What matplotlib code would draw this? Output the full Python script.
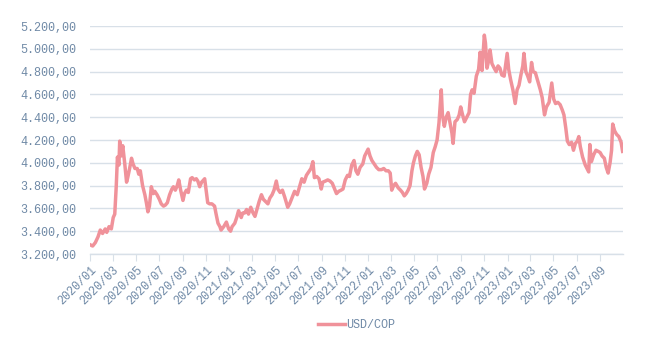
import pandas as pd
import numpy as np
import matplotlib
matplotlib.use("Agg")
from matplotlib import pyplot as plt
import matplotlib.dates as mdates
from matplotlib.ticker import FuncFormatter, MultipleLocator

# USD/COP exchange rate, 2020 - 2023
dates = [
    "2020-01-02", "2020-01-08", "2020-01-15", "2020-01-22", "2020-01-28", "2020-02-03", "2020-02-10",
    "2020-02-14", "2020-02-20", "2020-02-26", "2020-03-02", "2020-03-06", "2020-03-10", "2020-03-13",
    "2020-03-17", "2020-03-19", "2020-03-23", "2020-03-27", "2020-04-01", "2020-04-06", "2020-04-09",
    "2020-04-14", "2020-04-19", "2020-04-23", "2020-04-28", "2020-05-04", "2020-05-08", "2020-05-12",
    "2020-05-18", "2020-05-24", "2020-05-28", "2020-06-01", "2020-06-05", "2020-06-10", "2020-06-15",
    "2020-06-19", "2020-06-25", "2020-07-01", "2020-07-06", "2020-07-12", "2020-07-17", "2020-07-22",
    "2020-07-28", "2020-08-03", "2020-08-07", "2020-08-12", "2020-08-17", "2020-08-21", "2020-08-26",
    "2020-09-01", "2020-09-05", "2020-09-10", "2020-09-15", "2020-09-21", "2020-09-25", "2020-10-01",
    "2020-10-06", "2020-10-10", "2020-10-15", "2020-10-20", "2020-10-28", "2020-11-05", "2020-11-10",
    "2020-11-16", "2020-11-23", "2020-11-27", "2020-12-02", "2020-12-07", "2020-12-10", "2020-12-17",
    "2020-12-24", "2020-12-30",
    "2021-01-04", "2021-01-08", "2021-01-15", "2021-01-20", "2021-01-25", "2021-02-01", "2021-02-05",
    "2021-02-10", "2021-02-15", "2021-02-20", "2021-02-26", "2021-03-04", "2021-03-09", "2021-03-15",
    "2021-03-20", "2021-03-26", "2021-03-31", "2021-04-06", "2021-04-12", "2021-04-17", "2021-04-23",
    "2021-04-28", "2021-05-04", "2021-05-08", "2021-05-14", "2021-05-20", "2021-05-26", "2021-06-03",
    "2021-06-08", "2021-06-15", "2021-06-21", "2021-06-28", "2021-07-05", "2021-07-10", "2021-07-16",
    "2021-07-22", "2021-07-28", "2021-08-03", "2021-08-08", "2021-08-12", "2021-08-18", "2021-08-24",
    "2021-08-30", "2021-09-03", "2021-09-10", "2021-09-16", "2021-09-22", "2021-09-28", "2021-10-04",
    "2021-10-09", "2021-10-15", "2021-10-21", "2021-10-26", "2021-11-01", "2021-11-07", "2021-11-12",
    "2021-11-18", "2021-11-24", "2021-11-29", "2021-12-04", "2021-12-10", "2021-12-17", "2021-12-22",
    "2021-12-31",
    "2022-01-05", "2022-01-10", "2022-01-16", "2022-01-22", "2022-01-28", "2022-02-04", "2022-02-10",
    "2022-02-16", "2022-02-22", "2022-02-27", "2022-03-03", "2022-03-08", "2022-03-13", "2022-03-20",
    "2022-03-26", "2022-03-31", "2022-04-05", "2022-04-10", "2022-04-15", "2022-04-20", "2022-04-25",
    "2022-04-29", "2022-05-04", "2022-05-09", "2022-05-14", "2022-05-19", "2022-05-24", "2022-05-28",
    "2022-06-03", "2022-06-08", "2022-06-14", "2022-06-20", "2022-06-25", "2022-06-30", "2022-07-05",
    "2022-07-11", "2022-07-14", "2022-07-19", "2022-07-24", "2022-07-29", "2022-08-03", "2022-08-08",
    "2022-08-11", "2022-08-16", "2022-08-22", "2022-08-27", "2022-08-31", "2022-09-05", "2022-09-10",
    "2022-09-16", "2022-09-22", "2022-09-26", "2022-09-30", "2022-10-05", "2022-10-11", "2022-10-17",
    "2022-10-21", "2022-10-26", "2022-11-01", "2022-11-04", "2022-11-08", "2022-11-12", "2022-11-16",
    "2022-11-21", "2022-11-27", "2022-12-02", "2022-12-07", "2022-12-12", "2022-12-17", "2022-12-23",
    "2022-12-31",
    "2023-01-04", "2023-01-09", "2023-01-15", "2023-01-21", "2023-01-26", "2023-01-31", "2023-02-05",
    "2023-02-10", "2023-02-13", "2023-02-18", "2023-02-23", "2023-02-28", "2023-03-05", "2023-03-09",
    "2023-03-15", "2023-03-21", "2023-03-28", "2023-04-02", "2023-04-08", "2023-04-13", "2023-04-20",
    "2023-04-27", "2023-05-02", "2023-05-07", "2023-05-13", "2023-05-19", "2023-05-25", "2023-05-29",
    "2023-06-03", "2023-06-07", "2023-06-12", "2023-06-18", "2023-06-23", "2023-06-28", "2023-07-03",
    "2023-07-07", "2023-07-11", "2023-07-17", "2023-07-24", "2023-07-30", "2023-08-02", "2023-08-05",
    "2023-08-09", "2023-08-15", "2023-08-21", "2023-08-27", "2023-09-01", "2023-09-06", "2023-09-12",
    "2023-09-17", "2023-09-22", "2023-09-27", "2023-10-01", "2023-10-04", "2023-10-09", "2023-10-14",
    "2023-10-20", "2023-10-26", "2023-10-30",
]

usd_cop = [
    3280, 3270, 3300, 3350, 3410, 3380, 3420,
    3390, 3440, 3420, 3520, 3550, 3800, 4050,
    3980, 4190, 4060, 4150, 4000, 3830, 3870,
    3950, 4040, 3990, 3950, 3950, 3900, 3930,
    3800, 3720, 3650, 3570, 3620, 3790, 3730,
    3750, 3720, 3680, 3640, 3620, 3630, 3650,
    3720, 3770, 3790, 3760, 3800, 3850, 3760,
    3670, 3730, 3760, 3740, 3860, 3870, 3850,
    3860, 3840, 3790, 3830, 3860, 3650, 3640,
    3640, 3620, 3550, 3470, 3440, 3410, 3440,
    3480, 3420,
    3400, 3440, 3470, 3520, 3580, 3520, 3560,
    3560, 3590, 3550, 3610, 3560, 3530, 3600,
    3660, 3720, 3680, 3660, 3640, 3690, 3720,
    3760, 3840, 3770, 3740, 3760, 3700, 3610,
    3640, 3700, 3750, 3720, 3800, 3860, 3830,
    3890, 3920, 3950, 4010, 3870, 3880, 3860,
    3770, 3830, 3840, 3850, 3840, 3820, 3770,
    3730, 3750, 3760, 3770, 3850, 3890, 3880,
    3980, 4020, 3930, 3900, 3960, 3990, 4060,
    4120,
    4060, 4020, 3990, 3960, 3940, 3940, 3950,
    3930, 3930, 3910, 3760, 3800, 3820, 3780,
    3760, 3740, 3710, 3730, 3760, 3800, 3930,
    4000, 4060, 4100, 4070, 3960, 3880, 3770,
    3820, 3900, 3960, 4090, 4140, 4200, 4350,
    4640, 4420, 4320, 4400, 4440, 4350, 4260,
    4170, 4360, 4380, 4420, 4490, 4420, 4360,
    4400, 4440, 4600, 4640, 4610, 4760, 4820,
    4970, 4810, 5120, 5050, 4830, 4890, 4990,
    4870, 4830, 4800, 4850, 4830, 4770, 4760,
    4960,
    4820, 4730, 4640, 4520, 4640, 4680, 4770,
    4850, 4960, 4800, 4760, 4710, 4880, 4800,
    4790, 4720, 4640, 4570, 4420, 4490, 4530,
    4700, 4560, 4520, 4530, 4510, 4460, 4420,
    4300, 4190, 4160, 4180, 4110, 4170, 4190,
    4230, 4140, 4050, 3980, 3940, 3920, 4160,
    4010, 4070, 4110, 4100, 4090, 4060, 4040,
    3960, 3910, 4000, 4110, 4340, 4280, 4250,
    4230, 4180, 4100,
]

df = pd.DataFrame({"date": pd.to_datetime(dates), "USD/COP": usd_cop})

label_color = "#6f89a6"
grid_color = "#d8e0e8"
line_color = "#f0929a"
mono = ["Liberation Mono", "DejaVu Sans Mono"]

fig = plt.figure(figsize=(6.54, 3.49), dpi=100)
ax = fig.add_axes([0.1376, 0.2722, 0.815, 0.6533])

ax.plot(df["date"], df["USD/COP"], color=line_color, linewidth=2.5, label="USD/COP",
        solid_joinstyle="round")

ax.set_ylim(3200, 5200)
ax.set_xlim(pd.Timestamp("2020-01-01"), pd.Timestamp("2023-10-31"))
ax.yaxis.set_major_locator(MultipleLocator(200))


def cop_fmt(v, pos):
    s = "{:,.2f}".format(v)
    return s.replace(",", "X").replace(".", ",").replace("X", ".")


ax.yaxis.set_major_formatter(FuncFormatter(cop_fmt))
ax.xaxis.set_major_locator(mdates.MonthLocator(bymonth=[1, 3, 5, 7, 9, 11]))
ax.xaxis.set_major_formatter(mdates.DateFormatter("%Y/%m"))

ax.grid(axis="y", color=grid_color, linewidth=1)
ax.set_axisbelow(True)
for side in ["left", "right", "top"]:
    ax.spines[side].set_visible(False)
ax.spines["bottom"].set_color(grid_color)
ax.spines["bottom"].set_linewidth(1)

ax.tick_params(axis="y", length=0, pad=10, labelcolor=label_color, labelsize=8.5)
ax.tick_params(axis="x", length=5, color=grid_color, labelcolor=label_color, labelsize=8.5, pad=2)
for t in ax.get_yticklabels():
    t.set_family(mono)
for t in ax.get_xticklabels():
    t.set_family(mono)
    t.set_rotation(45)
    t.set_ha("right")
    t.set_rotation_mode("anchor")

leg = ax.legend(loc="center", bbox_to_anchor=(0.5, -0.31), frameon=False, handlelength=2.3,
                handletextpad=0.1, prop={"family": mono, "size": 8.5})
for t in leg.get_texts():
    t.set_color(label_color)

fig.savefig("out.png", dpi=100)
